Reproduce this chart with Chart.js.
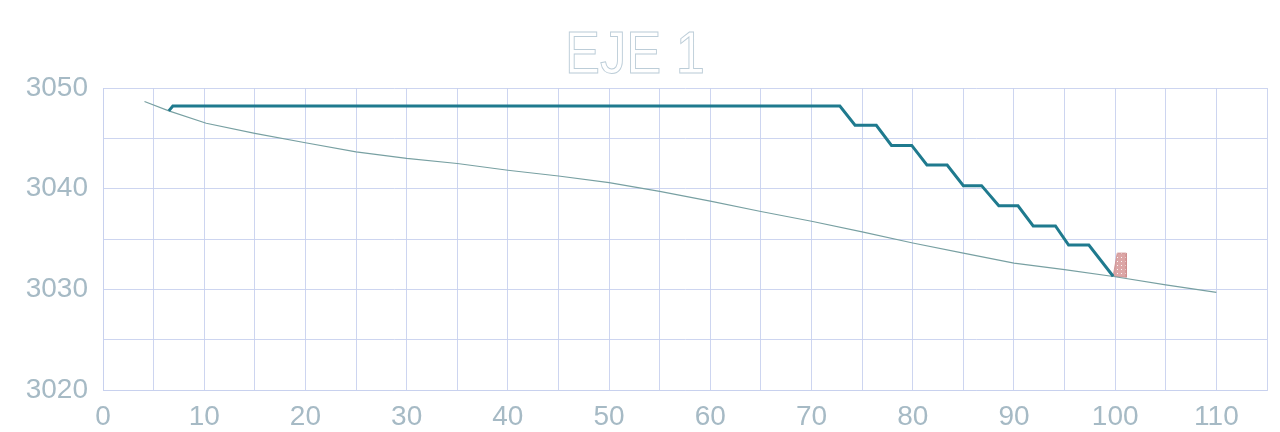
<!DOCTYPE html>
<html>
<head>
<meta charset="utf-8">
<script src="https://cdn.jsdelivr.net/npm/chart.js@4"></script>
<style>
  html, body { margin: 0; padding: 0; background: #fff; }
  #wrap { width: 1280px; height: 432px; }
</style>
</head>
<body>
<div id="wrap"><canvas id="perfil"></canvas></div>
<script>
// terreno natural
const terrenoX = [4.1, 6.5, 10.2, 15, 20, 25, 30, 35, 40, 45, 50, 55, 60, 65, 70, 75, 80, 85, 90, 95, 100, 105, 110];
const terrenoY = [3048.66, 3047.73, 3046.5, 3045.5, 3044.56, 3043.66, 3043.0, 3042.5, 3041.83, 3041.26, 3040.6, 3039.73, 3038.76, 3037.73, 3036.76, 3035.7, 3034.6, 3033.6, 3032.6, 3031.95, 3031.25, 3030.45, 3029.7];

// rasante escalonada
const rasanteX = [6.5, 6.9, 72.8, 74.3, 76.4, 77.9, 79.9, 81.4, 83.4, 85.0, 86.8, 88.5, 90.4, 91.9, 94.1, 95.4, 97.4, 99.8];
const rasanteY = [3047.73, 3048.2, 3048.2, 3046.3, 3046.3, 3044.3, 3044.3, 3042.35, 3042.35, 3040.3, 3040.3, 3038.3, 3038.3, 3036.3, 3036.3, 3034.4, 3034.4, 3031.3];

// pequeño bloque al final
const bloqueX = [99.8, 100.2, 101.1, 101.1, 99.8];
const bloqueY = [3031.3, 3033.6, 3033.6, 3031.2, 3031.3];

const xTicks = [0, 10, 20, 30, 40, 50, 60, 70, 80, 90, 100, 110];
const yTicks = [3020, 3030, 3040, 3050];
const titulo = 'EJE 1';

const toPts = (xs, ys) => xs.map((x, i) => ({ x: x, y: ys[i] }));

// pink dotted pattern for the block
const pc = document.createElement('canvas');
pc.width = 4; pc.height = 4;
const pctx = pc.getContext('2d');
pctx.fillStyle = 'rgba(214,150,150,0.85)';
pctx.fillRect(0, 0, 4, 4);
pctx.fillStyle = 'rgba(255,255,255,0.9)';
pctx.fillRect(1, 1, 1, 1);
const pattern = pctx.createPattern(pc, 'repeat');

const outlineTitle = {
  id: 'outlineTitle',
  afterDraw(chart) {
    const c = chart.ctx;
    c.save();
    c.font = '59px "Liberation Sans", Arial, sans-serif';
    const w = c.measureText(titulo).width;
    c.translate(635, 73);
    c.scale(140 / w, 1);
    c.textAlign = 'center';
    c.textBaseline = 'alphabetic';
    c.strokeStyle = '#bccdd8';
    c.lineWidth = 1;
    c.strokeText(titulo, 0, 0);
    c.restore();
  }
};

const gridColor = 'rgba(200,208,238,0.9)';
const tickFont = { family: '"Liberation Sans", Arial, sans-serif', size: 28 };
const tickColor = '#a6bac5';

new Chart(document.getElementById('perfil'), {
  type: 'scatter',
  data: {
    datasets: [
      {
        label: 'Rasante',
        data: toPts(rasanteX, rasanteY),
        showLine: true,
        borderColor: '#1f7a8e',
        borderWidth: 3,
        pointRadius: 0,
        fill: false
      },
      {
        label: 'Terreno',
        data: toPts(terrenoX, terrenoY),
        showLine: true,
        borderColor: '#78a0a2',
        borderWidth: 1.2,
        pointRadius: 0,
        fill: false
      },
      {
        label: 'Bloque',
        data: toPts(bloqueX, bloqueY),
        showLine: true,
        borderColor: 'rgba(205,140,140,0.8)',
        borderWidth: 1,
        backgroundColor: pattern,
        pointRadius: 0,
        fill: 'shape'
      }
    ]
  },
  plugins: [outlineTitle],
  options: {
    responsive: true,
    maintainAspectRatio: false,
    animation: false,
    layout: { padding: { top: 88, right: 13, left: 0, bottom: 0 } },
    plugins: {
      legend: { display: false },
      tooltip: { enabled: false }
    },
    scales: {
      x: {
        type: 'linear',
        min: 0,
        max: 115,
        afterFit: (s) => { s.height = 42; },
        afterBuildTicks: (s) => {
          const t = [];
          for (let v = 0; v <= 115; v += 5) t.push({ value: v });
          s.ticks = t;
        },
        grid: { color: gridColor, drawTicks: false },
        border: { color: gridColor },
        ticks: {
          padding: 10,
          color: tickColor,
          font: tickFont,
          maxRotation: 0,
          autoSkip: false,
          callback: (v) => xTicks.includes(v) ? String(v) : ''
        }
      },
      y: {
        min: 3020,
        max: 3050,
        afterFit: (s) => { s.width = 103; },
        afterBuildTicks: (s) => {
          const t = [];
          for (let v = 3020; v <= 3050; v += 5) t.push({ value: v });
          s.ticks = t;
        },
        grid: { color: gridColor, drawTicks: false },
        border: { color: gridColor },
        ticks: {
          padding: 15,
          color: tickColor,
          font: tickFont,
          autoSkip: false,
          callback: (v) => yTicks.includes(v) ? String(v) : ''
        }
      }
    }
  }
});
</script>
</body>
</html>
